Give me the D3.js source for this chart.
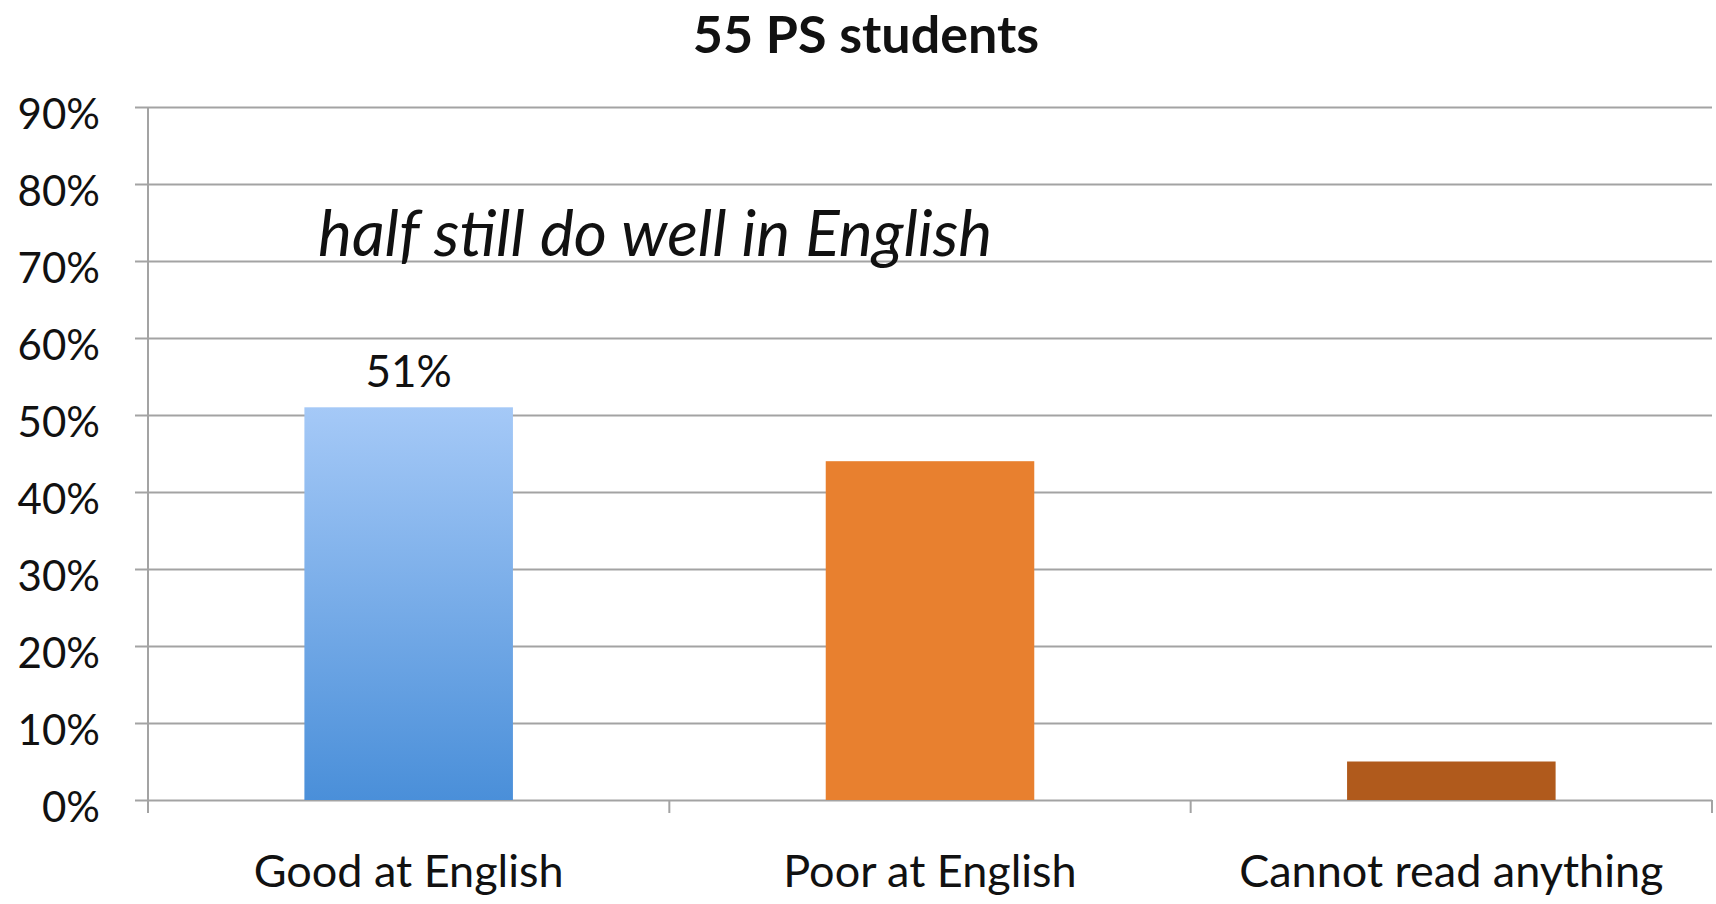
<!DOCTYPE html>
<html>
<head>
<meta charset="utf-8">
<script src="https://cdn.jsdelivr.net/npm/d3@7"></script>
<style>
  html, body { margin: 0; padding: 0; background: #fff; }
  svg { display: block; }
  text { font-family: Lato, "Open Sans", sans-serif; fill: #111; }
</style>
</head>
<body>
<script>
// Survey of 55 PS students: share in each English reading level
const categories = ["Good at English", "Poor at English", "Cannot read anything"];
const values = [0.51, 0.44, 0.05];
const valueLabels = ["51%", null, "5%"];
const yTicks = [0, 0.1, 0.2, 0.3, 0.4, 0.5, 0.6, 0.7, 0.8, 0.9];
const title = "55 PS students";
const note = "half still do well in English";

const W = 1716, H = 904;
const plotLeft = 148, plotRight = 1712, plotTop = 107, plotBottom = 800;

const svg = d3.select("body").append("svg").attr("width", W).attr("height", H);

// gradient for the first bar
const defs = svg.append("defs");
const grad = defs.append("linearGradient").attr("id", "blueGrad")
  .attr("x1", 0).attr("y1", 0).attr("x2", 0).attr("y2", 1);
grad.append("stop").attr("offset", "0%").attr("stop-color", "#a5c9f7");
grad.append("stop").attr("offset", "100%").attr("stop-color", "#4a8fd9");

const fills = ["url(#blueGrad)", "#e8802f", "#b05a1c"];

const x = d3.scaleBand().domain(categories).range([plotLeft, plotRight])
  .paddingInner(0.6).paddingOuter(0.3);
const y = d3.scaleLinear().domain([0, 0.9]).range([plotBottom, plotTop]);

const gridColor = "#a3a3a3";

// y axis with full-width gridlines
const yAxis = d3.axisLeft(y).tickValues(yTicks)
  .tickFormat(d3.format(".0%"))
  .tickSizeInner(-(plotRight - plotLeft)).tickSizeOuter(0).tickPadding(48);
const gy = svg.append("g").attr("transform", `translate(${plotLeft},0)`).call(yAxis);
gy.select(".domain").remove();
gy.selectAll(".tick line").attr("x1", -13).attr("stroke", gridColor).attr("stroke-width", 2);
gy.selectAll(".tick text").attr("font-size", 42).attr("dy", "0.5em")
  .style("font-family", "Lato, sans-serif").attr("fill", "#111");

// vertical axis line
svg.append("line").attr("x1", plotLeft).attr("x2", plotLeft)
  .attr("y1", y(0.9)).attr("y2", plotBottom + 13)
  .attr("stroke", gridColor).attr("stroke-width", 2);

// category boundary ticks below the baseline
const step = x.step();
const boundaries = categories.map((c, i) => plotLeft + step * (i + 1));
svg.selectAll(".btick").data(boundaries).enter().append("line")
  .attr("x1", d => d).attr("x2", d => d)
  .attr("y1", plotBottom).attr("y2", plotBottom + 13)
  .attr("stroke", gridColor).attr("stroke-width", 2);

// annotation sitting on the 70% gridline
svg.append("text").attr("x", 318).attr("y", y(0.7) - 5)
  .attr("font-size", 64).attr("font-style", "italic")
  .text(note);

// bars
svg.selectAll(".bar").data(values).enter().append("rect")
  .attr("x", (d, i) => x(categories[i]))
  .attr("width", x.bandwidth())
  .attr("y", d => y(d))
  .attr("height", d => y(0) - y(d))
  .attr("fill", (d, i) => fills[i]);

// value labels
svg.selectAll(".vlabel").data(values).enter().filter((d, i) => valueLabels[i])
  .append("text")
  .attr("x", (d, i) => x(categories[i]) + x.bandwidth() / 2)
  .attr("y", d => y(d) - 20)
  .attr("text-anchor", "middle").attr("font-size", 44)
  .text((d, i) => valueLabels[i]);

// category labels
svg.selectAll(".clabel").data(categories).enter().append("text")
  .attr("x", d => x(d) + x.bandwidth() / 2)
  .attr("y", 887)
  .attr("text-anchor", "middle").attr("font-size", 45)
  .text(d => d);

// title
svg.append("text").attr("x", 866).attr("y", 53)
  .attr("text-anchor", "middle").attr("font-size", 52).attr("font-weight", "bold")
  .text(title);
</script>
</body>
</html>
